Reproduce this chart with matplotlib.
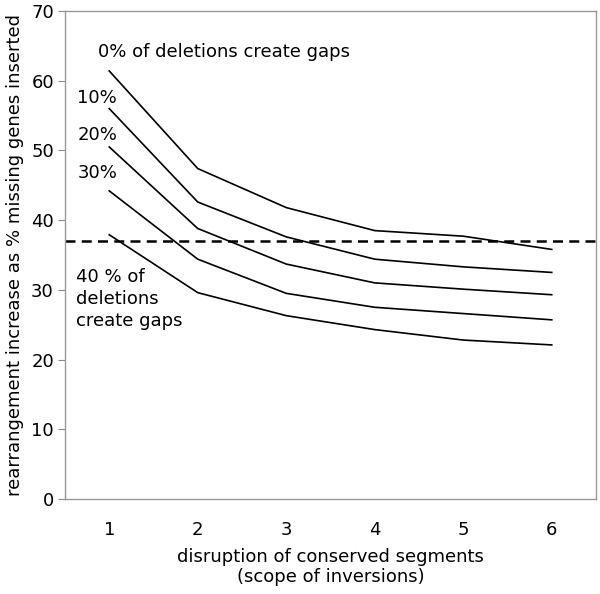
import numpy as np
import matplotlib.pyplot as plt

scope = [1, 2, 3, 4, 5, 6]
gap0 = [61.4, 47.4, 41.8, 38.5, 37.7, 35.8]
gap10 = [56.0, 42.6, 37.6, 34.4, 33.3, 32.5]
gap20 = [50.5, 38.8, 33.7, 31.0, 30.1, 29.3]
gap30 = [44.2, 34.4, 29.5, 27.5, 26.6, 25.7]
gap40 = [37.9, 29.6, 26.3, 24.3, 22.8, 22.1]
threshold = 37.0

fig = plt.figure(figsize=(6.0, 5.94), dpi=100)
ax = fig.add_axes([65 / 600, 1 - 499 / 594, 531 / 600, 488 / 594])

for s in (gap0, gap10, gap20, gap30, gap40):
    ax.plot(scope, s, color='black', linewidth=1.2)
ax.axhline(threshold, color='black', linewidth=1.8, linestyle=(0, (4, 2.5)))

fs = 13
ax.set_xlim(0.5, 6.5)
ax.set_ylim(0, 70)
ax.set_xticks(scope)
ax.set_yticks(range(0, 71, 10))
ax.tick_params(axis='x', length=0, pad=16, labelsize=fs)
ax.tick_params(axis='y', length=5, color='#888888', labelsize=fs, pad=3)
for sp_ in ax.spines.values():
    sp_.set_color('#999999')
    sp_.set_linewidth(1.0)

ax.set_ylabel('rearrangement increase as % missing genes inserted', fontsize=fs, labelpad=5)
ax.set_xlabel('disruption of conserved segments\n(scope of inversions)', fontsize=fs,
              labelpad=6, linespacing=1.2)

ax.text(0.87, 64.1, '0% of deletions create gaps', fontsize=fs, va='center', ha='left')
ax.text(0.64, 57.5, '10%', fontsize=fs, va='center', ha='left')
ax.text(0.64, 52.2, '20%', fontsize=fs, va='center', ha='left')
ax.text(0.64, 46.8, '30%', fontsize=fs, va='center', ha='left')
ax.text(0.62, 33.2, '40 % of\ndeletions\ncreate gaps', fontsize=fs, va='top', ha='left',
        linespacing=1.3)

fig.savefig('out.png', dpi=100)
